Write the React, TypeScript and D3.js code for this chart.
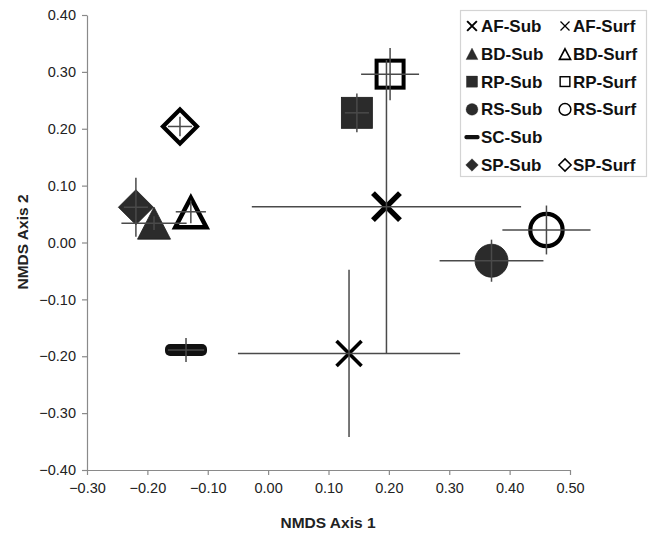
import React, { useEffect, useRef } from 'react';
import * as d3 from 'd3';

// NMDS ordination, group means with error bars
const groups = ['AF-Sub', 'AF-Surf', 'BD-Sub', 'BD-Surf', 'RP-Sub', 'RP-Surf', 'RS-Sub', 'RS-Surf', 'SC-Sub', 'SP-Sub', 'SP-Surf'];
const axis1 = [0.196, 0.134, -0.189, -0.128, 0.147, 0.202, 0.37, 0.461, -0.136, -0.219, -0.146];
const axis2 = [0.063, -0.195, 0.034, 0.054, 0.228, 0.296, -0.032, 0.022, -0.189, 0.062, 0.204];
const err1 = [0.223, 0.184, 0.054, 0.025, 0.02, 0.048, 0.086, 0.073, 0.03, 0.02, 0.02];
const err2 = [0.258, 0.147, 0.012, 0.02, 0.034, 0.046, 0.037, 0.043, 0.021, 0.052, 0.017];
const markers = ['xBold', 'x', 'triFill', 'triOpen', 'sqFill', 'sqOpen', 'circFill', 'circOpen', 'dash', 'diaFill', 'diaOpen'];

const legendRows = [
  ['AF-Sub', 'AF-Surf'],
  ['BD-Sub', 'BD-Surf'],
  ['RP-Sub', 'RP-Surf'],
  ['RS-Sub', 'RS-Surf'],
  ['SC-Sub', null],
  ['SP-Sub', 'SP-Surf'],
];

const xTicks = [-0.3, -0.2, -0.1, 0, 0.1, 0.2, 0.3, 0.4, 0.5];
const yTicks = [-0.4, -0.3, -0.2, -0.1, 0, 0.1, 0.2, 0.3, 0.4];

const W = 649;
const H = 537;
const FONT = '"Liberation Sans", Arial, sans-serif';
const DARK = '#2b2b2b';

// draws one marker shape centered at 0,0 inside g
const drawMarker = (g, kind) => {
  if (kind === 'xBold' || kind === 'x') {
    const a = kind === 'xBold' ? 13.5 : 12.5;
    g.append('path')
      .attr('d', `M${-a},${-a}L${a},${a}M${-a},${a}L${a},${-a}`)
      .attr('stroke', '#000')
      .attr('stroke-width', kind === 'xBold' ? 5.5 : 3.6)
      .attr('fill', 'none');
  } else if (kind === 'triFill') {
    g.append('path').attr('d', 'M0,-16L16.5,16L-16.5,16Z').attr('fill', DARK).attr('stroke', '#1a1a1a').attr('stroke-width', 0.8);
  } else if (kind === 'triOpen') {
    g.append('path')
      .attr('d', 'M0,-14L15.5,15.5L-15.5,15.5Z')
      .attr('fill', 'none')
      .attr('stroke', '#000')
      .attr('stroke-width', 4.5)
      .attr('stroke-linejoin', 'miter')
      .attr('stroke-miterlimit', 2.2);
  } else if (kind === 'sqFill') {
    g.append('rect').attr('x', -15.5).attr('y', -15.5).attr('width', 31).attr('height', 31).attr('fill', DARK).attr('stroke', '#1a1a1a').attr('stroke-width', 0.8);
  } else if (kind === 'sqOpen') {
    g.append('rect').attr('x', -13.5).attr('y', -13.5).attr('width', 27).attr('height', 27).attr('fill', 'none').attr('stroke', '#000').attr('stroke-width', 4);
  } else if (kind === 'circFill') {
    g.append('circle').attr('r', 16.5).attr('fill', DARK).attr('stroke', '#1a1a1a').attr('stroke-width', 0.8);
  } else if (kind === 'circOpen') {
    g.append('circle').attr('r', 16.2).attr('fill', 'none').attr('stroke', '#000').attr('stroke-width', 4.2);
  } else if (kind === 'dash') {
    g.append('rect').attr('x', -21).attr('y', -6).attr('width', 42).attr('height', 12).attr('rx', 5).attr('fill', '#111');
  } else if (kind === 'diaFill') {
    g.append('path').attr('d', 'M0,-17.5L17.5,0L0,17.5L-17.5,0Z').attr('fill', DARK).attr('stroke', '#1a1a1a').attr('stroke-width', 0.8);
  } else if (kind === 'diaOpen') {
    g.append('path')
      .attr('d', 'M0,-17L17,0L0,17L-17,0Z')
      .attr('fill', 'none')
      .attr('stroke', '#000')
      .attr('stroke-width', 4.2)
      .attr('stroke-linejoin', 'miter');
  }
};

const NmdsChart = () => {
  const ref = useRef(null);

  useEffect(() => {
    const svg = d3.select(ref.current);
    svg.selectAll('*').remove();

    const x = d3.scaleLinear().domain([-0.3, 0.5]).range([87, 570]);
    const y = d3.scaleLinear().domain([-0.4, 0.4]).range([470, 15]);
    const fmt = d3.format('.2f');

    const xAxis = svg
      .append('g')
      .attr('transform', `translate(0,${y(-0.4)})`)
      .call(d3.axisBottom(x).tickValues(xTicks).tickFormat(fmt).tickSize(5).tickSizeOuter(0).tickPadding(8));
    const yAxis = svg
      .append('g')
      .attr('transform', `translate(${x(-0.3)},0)`)
      .call(d3.axisLeft(y).tickValues(yTicks).tickFormat(fmt).tickSize(5).tickSizeOuter(0).tickPadding(6));

    [xAxis, yAxis].forEach((a) => {
      a.select('.domain').attr('stroke', '#8a8a8a').attr('stroke-width', 1.2);
      a.selectAll('.tick line').attr('stroke', '#8a8a8a').attr('stroke-width', 1.2);
      a.selectAll('.tick text').attr('fill', '#222').style('font-family', FONT).style('font-size', '14.5px');
    });

    svg
      .append('text')
      .attr('x', 328)
      .attr('y', 528)
      .attr('text-anchor', 'middle')
      .style('font-family', FONT)
      .style('font-size', '15.5px')
      .style('font-weight', 'bold')
      .attr('fill', '#222')
      .text('NMDS Axis 1');

    svg
      .append('text')
      .attr('transform', `translate(28,242) rotate(-90)`)
      .attr('text-anchor', 'middle')
      .style('font-family', FONT)
      .style('font-size', '15.5px')
      .style('font-weight', 'bold')
      .attr('fill', '#222')
      .text('NMDS Axis 2');

    const data = groups.map((name, i) => ({
      name,
      x: axis1[i],
      y: axis2[i],
      ex: err1[i],
      ey: err2[i],
      marker: markers[i],
    }));

    // markers
    const pts = svg.append('g');
    data.forEach((d) => {
      const g = pts.append('g').attr('transform', `translate(${x(d.x)},${y(d.y)})`);
      drawMarker(g, d.marker);
    });

    // error bars on top
    const bars = svg.append('g').attr('stroke', '#4a4a4a').attr('stroke-width', 1.5);
    data.forEach((d) => {
      bars.append('line').attr('x1', x(d.x - d.ex)).attr('x2', x(d.x + d.ex)).attr('y1', y(d.y)).attr('y2', y(d.y));
      bars.append('line').attr('x1', x(d.x)).attr('x2', x(d.x)).attr('y1', y(d.y - d.ey)).attr('y2', y(d.y + d.ey));
    });

    // legend
    const lg = svg.append('g');
    lg.append('rect')
      .attr('x', 460.5)
      .attr('y', 10.5)
      .attr('width', 186)
      .attr('height', 166)
      .attr('fill', '#fff')
      .attr('stroke', '#d4d4d4')
      .attr('stroke-width', 1.2);

    const colMarker = [472, 565];
    const colText = [481, 573];
    legendRows.forEach((row, r) => {
      const cy = 26 + r * 27.8;
      row.forEach((name, c) => {
        if (!name) return;
        const kind = markers[groups.indexOf(name)];
        const m = lg.append('g').attr('transform', `translate(${colMarker[c]},${cy}) scale(0.36)`);
        drawMarker(m, kind);
        lg.append('text')
          .attr('x', colText[c])
          .attr('y', cy + 6)
          .style('font-family', FONT)
          .style('font-size', '17px')
          .style('font-weight', 'bold')
          .attr('fill', '#111')
          .text(name);
      });
    });
  }, []);

  return (
    <svg
      ref={ref}
      width={W}
      height={H}
      style={{ position: 'absolute', left: 0, top: 0, background: '#fff' }}
    />
  );
};

export default function App() {
  return <NmdsChart />;
}
